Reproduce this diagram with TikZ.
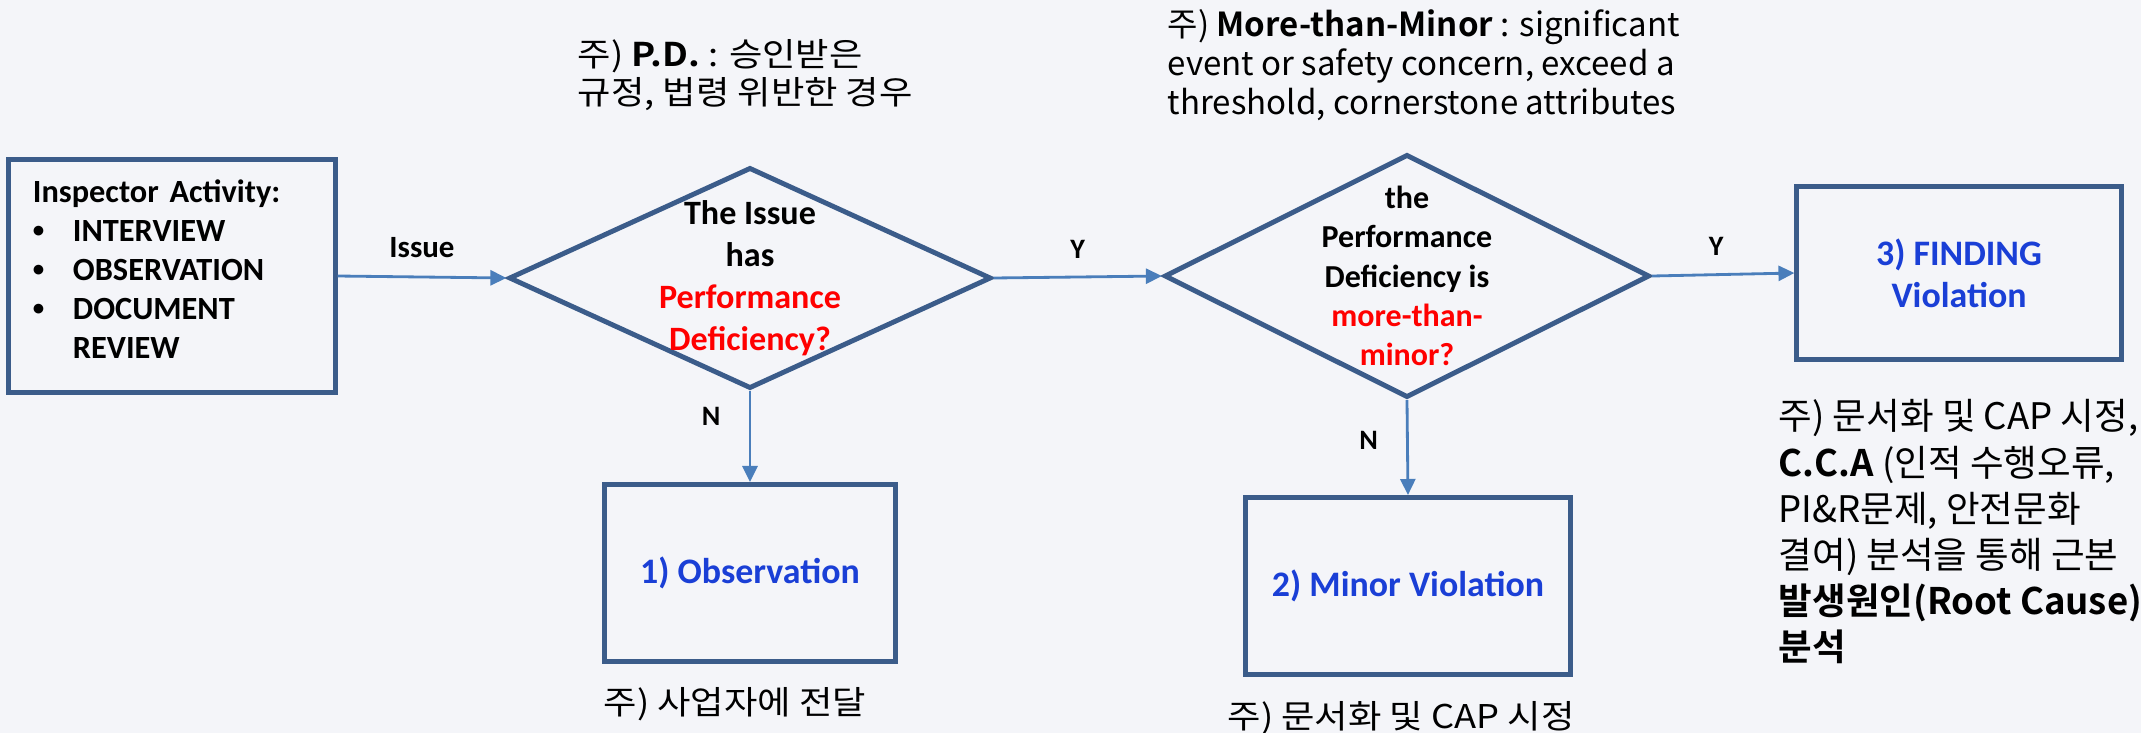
\documentclass[tikz,border=0pt]{standalone}
\usepackage{fontspec}
\setmainfont{Carlito}
\newfontfamily\krfont{Noto Sans CJK KR}[BoldFont={Noto Sans CJK KR Bold}]
\newfontfamily\krwide{Noto Sans CJK KR}[BoldFont={Noto Sans CJK KR Bold}, FakeStretch=1.11]
\usepackage{xcolor}
\usetikzlibrary{shapes.geometric, arrows.meta, positioning}
\definecolor{boxline}{HTML}{3B5C8A}
\definecolor{arrowline}{HTML}{4A7EBB}
\definecolor{boxtext}{HTML}{1A3FD6}
\definecolor{pagebg}{HTML}{F4F5F9}
\newcommand{\itembul}{\makebox[0.4cm][l]{\raisebox{0.12em}{\fontsize{6.5pt}{7pt}\selectfont\textbullet}}}

\begin{document}
\begin{tikzpicture}[x=0.01cm, y=-0.01cm,
    flowbox/.style={draw=boxline, line width=1.4pt, rectangle, inner sep=0pt, text=boxtext, font=\bfseries\fontsize{10.2pt}{11.9pt}\selectfont, align=center},
    decision/.style={draw=boxline, line width=1.4pt, diamond, inner sep=0pt},
    flowarrow/.style={draw=arrowline, line width=0.8pt, -{Triangle[length=0.16cm, width=0.15cm]}},
    edgelabel/.style={font=\bfseries\fontsize{8pt}{9pt}\selectfont, inner sep=2pt},
    note/.style={font=\krwide\fontsize{9.3pt}{10.8pt}\selectfont, align=left, anchor=north west, inner sep=0pt}]
    \useasboundingbox (0,0) rectangle (2141,733);
    \fill[pagebg] (0,0) rectangle (2141,733);

    % Flow boxes
    \node (activity) [flowbox, minimum width=3.26cm, minimum height=2.32cm, text=black, align=left, text width=2.78cm, font=\bfseries\fontsize{9.2pt}{11.1pt}\selectfont] at (172,276)
        {Inspector Activity:\\
         \itembul INTERVIEW\\
         \itembul OBSERVATION\\
         \itembul DOCUMENT\\
         \hspace*{0.4cm}REVIEW\rule[-0.14cm]{0pt}{0pt}};
    \node (pd) [decision, minimum width=4.82cm, minimum height=2.21cm] at (750,278) {};
    \node (pdtext) [align=center, font=\bfseries\fontsize{9.7pt}{11.95pt}\selectfont] at (pd.center)
        {The Issue\\has\\\textcolor{red}{Performance}\\\textcolor{red}{Deficiency?}};
    \node (mtm) [decision, minimum width=4.85cm, minimum height=2.43cm] at (1407,276) {};
    \node (mtmtext) [align=center, font=\bfseries\fontsize{9.1pt}{11.2pt}\selectfont] at (mtm.center)
        {the\\Performance\\Deficiency is\\\textcolor{red}{more-than-}\\\textcolor{red}{minor?}};
    \node (obs) [flowbox, minimum width=2.90cm, minimum height=1.77cm] at (750,573) {1) Observation};
    \node (minor) [flowbox, minimum width=3.24cm, minimum height=1.77cm] at (1408,586) {2) Minor Violation};
    \node (finding) [flowbox, minimum width=3.24cm, minimum height=1.73cm] at (1959,273) {3) FINDING\\Violation};

    % Connectors
    \draw[flowarrow] (activity.east) -- node[above, edgelabel, font=\bfseries\fontsize{8.8pt}{10pt}\selectfont, inner sep=5pt] {Issue} (pd.west);
    \draw[flowarrow] (pd.east) -- node[above, edgelabel, inner sep=5pt] {Y} (mtm.west);
    \draw[flowarrow] (mtm.east) -- node[above, edgelabel, pos=0.45, inner sep=5pt] {Y} (finding.west);
    \draw[flowarrow] (pd.south) -- node[left, edgelabel, pos=0.28, inner sep=8pt] {N} (obs.north);
    \draw[flowarrow] (mtm.south) -- node[left, edgelabel, pos=0.42, inner sep=8pt] {N} (minor.north);

    % Notes
    \node (pdnote) [note] at (577,39) {주) \textbf{P.D.} : 승인받은\\규정, 법령 위반한 경우};
    \node (mtmnote) [note, font=\krfont\fontsize{9.4pt}{11.1pt}\selectfont] at (1167,9) {주) \textbf{More-than-Minor} : significant\\event or safety concern, exceed a\\threshold, cornerstone attributes};
    \node (obsnote) [note] at (603,687) {주) 사업자에 전달};
    \node (minornote) [note] at (1227,701) {주) 문서화 및 CAP 시정};
    \node (findingnote) [note, font=\krfont\fontsize{10.4pt}{13.1pt}\selectfont] at (1778,399)
        {주) 문서화 및 CAP 시정,\\
         \textbf{C.C.A} (인적 수행오류,\\
         PI\&R문제, 안전문화\\
         결여) 분석을 통해 근본\\
         \textbf{발생원인(Root Cause)}\\
         \textbf{분석}};
\end{tikzpicture}
\end{document}
